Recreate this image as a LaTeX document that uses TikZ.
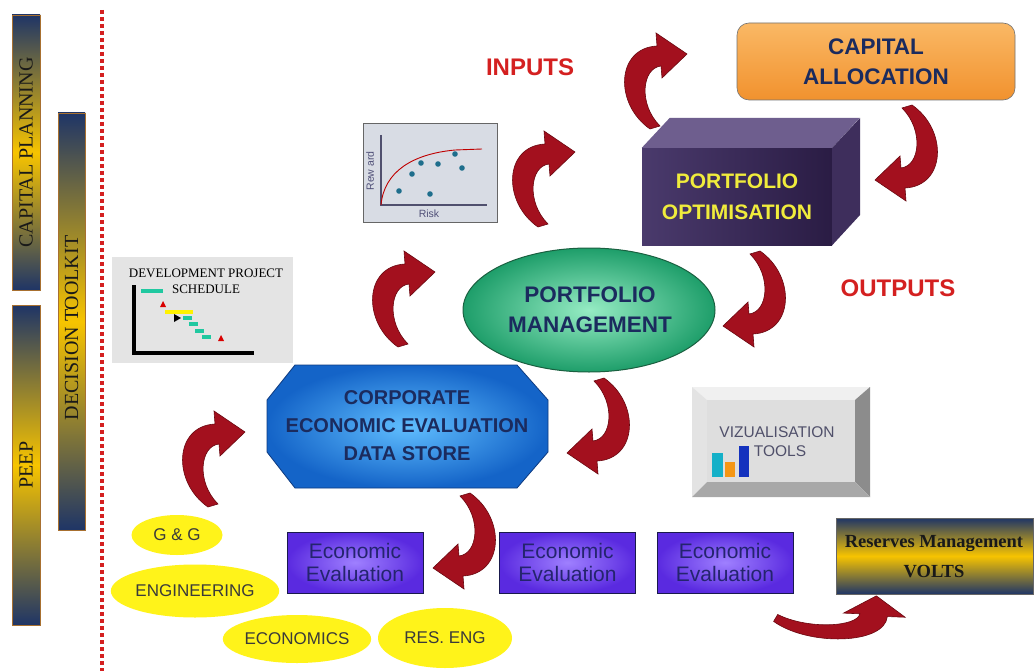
\documentclass[tikz,border=0pt]{standalone}
\usepackage{fontspec}
\setmainfont{Liberation Serif}
\setsansfont{Liberation Sans}
\usetikzlibrary{shapes.geometric}
\definecolor{navy}{HTML}{1F3566}
\definecolor{goldy}{HTML}{F7C400}
\definecolor{arrred}{HTML}{A3101E}
\definecolor{arrdark}{HTML}{6A0810}
\definecolor{titleblue}{HTML}{1B2B5E}
\definecolor{redtxt}{HTML}{D42020}
\definecolor{barborder}{HTML}{A87030}
\definecolor{evaltxt}{HTML}{24246E}
\definecolor{elltxt}{HTML}{3A3A3A}
\definecolor{vizt}{HTML}{50506A}
\definecolor{evallight}{HTML}{9F80FF}
\definecolor{evaldark}{HTML}{5A2AE0}
\definecolor{boxleft}{HTML}{4A3A6C}
\definecolor{boxright}{HTML}{2A1C44}
\definecolor{captop}{HTML}{FAB865}
\definecolor{capbot}{HTML}{F1922E}
\begin{document}
\begin{tikzpicture}[x=1pt,y=-1pt,
  sidebar/.style={draw=barborder, line width=0.6pt, top color=navy, bottom color=navy, middle color=goldy, inner sep=0},
  sidetext/.style={rotate=90, font=\rmfamily\fontsize{20}{22}\selectfont, text=black!90},
  bigtitle/.style={font=\sffamily\bfseries\fontsize{22}{30}\selectfont, text=titleblue, align=center},
  redlabel/.style={font=\sffamily\bfseries\fontsize{24}{26}\selectfont, text=redtxt},
  evalbox/.style={draw=evaltxt!70!black, line width=0.6pt, inner color=evallight, outer color=evaldark, minimum width=136, minimum height=61, inner sep=0, font=\sffamily\fontsize{21}{23}\selectfont, text=evaltxt, align=center},
  yell/.style={ellipse, fill=yellow!90!white, inner sep=0, font=\sffamily\fontsize{17}{19}\selectfont, text=elltxt},
  dotline/.style={draw=redtxt, line width=3.6pt, dash pattern=on 3.6pt off 3.4pt},
  carrow/.pic={
    \fill[arrred, draw=arrdark, line width=0.6pt] (-2,47) .. controls (-38,22) and (-36,-34) .. (5,-36) -- (4,-49) -- (35,-28) -- (10,-4) -- (9,-16) .. controls (-10,-14) and (-14,22) .. (8,44) -- cycle;
  }
]
\useasboundingbox (0,0) rectangle (1035,671);
\fill[white] (0,0) rectangle (1035,671);

% left bars
\node[sidebar, minimum width=28, minimum height=275] (cp) at (26,152.5) {};
\node[sidetext] (cpt) at (cp) {CAPITAL PLANNING};
\node[sidebar, minimum width=28, minimum height=320] (peep) at (26,465) {};
\node[sidetext] (peept) at (26,465) {PEEP};
\node[sidebar, minimum width=27, minimum height=417] (dt) at (71.5,321.5) {};
\node[sidetext] (dtt) at (71.5,328) {DECISION TOOLKIT};

% dotted separator
\coordinate (d1) at (102,10);
\coordinate (d2) at (102,671);
\draw[dotline] (d1) -- (d2);

% labels
\node[redlabel] (inputs) at (530,67) {INPUTS};
\node[redlabel] (outputs) at (898,288) {OUTPUTS};

% capital allocation
\node[draw=black!55, line width=0.6pt, rounded corners=12, top color=captop, bottom color=capbot, minimum width=278, minimum height=77, inner sep=0] (cap) at (876,61.5) {};
\node[bigtitle, font=\sffamily\bfseries\fontsize{22.5}{30}\selectfont] (capt) at (876,62) {CAPITAL\\ALLOCATION};

% portfolio optimisation 3D box
\node[left color=boxleft, right color=boxright, minimum width=190, minimum height=97, inner sep=0] (popt) at (737,196.5) {};
\fill[fill={rgb,255:red,110;green,94;blue,142}] (popt.north west) -- ++(28,-30) -- ++(190,0) -- (popt.north east) -- cycle;
\fill[fill={rgb,255:red,62;green,46;blue,92}] (popt.north east) -- ++(28,-30) -- ++(0,97) -- (popt.south east) -- cycle;
\node[font=\sffamily\bfseries\fontsize{21}{31}\selectfont, text={rgb,255:red,240;green,236;blue,60}, align=center] (poptt) at (737,197) {PORTFOLIO\\OPTIMISATION};

% risk chart
\node[draw=black!60, line width=1pt, fill={rgb,255:red,216;green,220;blue,228}, minimum width=134, minimum height=98, inner sep=0] (risk) at (430,173) {};
\coordinate (ra) at (381,135);
\coordinate (ro) at (381,205);
\coordinate (rb) at (487,205);
\draw[draw={rgb,255:red,80;green,80;blue,110}, line width=1.2pt] (ra) -- (ro) -- (rb);
\draw[red!75!black, line width=0.9pt] (ro) .. controls (384,172) and (412,154) .. (455,150) -- (482,149);
\foreach \px/\py in {399/191, 412/174, 421/163, 438/164, 455/154, 462/168, 430/194}
  \fill[fill={rgb,255:red,30;green,110;blue,140}] (\px,\py) circle (2.8);
\node[rotate=90, font=\sffamily\fontsize{10.5}{11}\selectfont, text={rgb,255:red,80;green,80;blue,120}] (rewt) at (370,171) {Rew ard};
\node[font=\sffamily\fontsize{10.5}{11}\selectfont, text={rgb,255:red,80;green,80;blue,120}] (riskt) at (429,214) {Risk};

% development schedule
\node[fill={rgb,255:red,228;green,228;blue,228}, minimum width=181, minimum height=106, inner sep=0] (sched) at (202.5,310) {};
\node[font=\rmfamily\fontsize{13}{16}\selectfont, align=center] (schedt) at (206,281) {DEVELOPMENT PROJECT\\SCHEDULE};
\coordinate (sa) at (134,285);
\coordinate (so) at (134,353);
\coordinate (sb) at (254,353);
\draw[line width=4pt] (sa) -- (so) -- (sb);
\begin{scope}[line width=3.5pt, draw={rgb,255:red,32;green,200;blue,160}]
\draw (141,291) -- (163,291);
\draw (183,318) -- (192,318);
\draw (189,324) -- (198,324);
\draw (195,331) -- (204,331);
\draw (202,337) -- (211,337);
\end{scope}
\draw[line width=4.5pt, yellow] (165,312) -- (193,312);
\fill (174,314) -- (181,318) -- (174,322) -- cycle;
\fill[red!85!black] (163,301) -- (166,307) -- (160,307) -- cycle;
\fill[red!85!black] (221,335) -- (224,341) -- (218,341) -- cycle;

% portfolio management ellipse
\node[ellipse, draw={rgb,255:red,26;green,96;blue,64}, line width=1pt, inner color={rgb,255:red,150;green,236;blue,196}, outer color={rgb,255:red,30;green,158;blue,106}, minimum width=252, minimum height=124, inner sep=0] (pm) at (589,310) {};
\node[bigtitle, font=\sffamily\bfseries\fontsize{22.5}{30}\selectfont] (pmt) at (590,310) {PORTFOLIO\\MANAGEMENT};

% corporate data store octagon
\path[draw={rgb,255:red,13;green,58;blue,128}, line width=0.8pt, inner color={rgb,255:red,96;green,190;blue,255}, outer color={rgb,255:red,20;green,100;blue,200}]
  (295,365) -- (517,365) -- (548,400) -- (548,452) -- (517,488) -- (295,488) -- (267,452) -- (267,400) -- cycle;
\node[bigtitle, font=\sffamily\bfseries\fontsize{20}{28}\selectfont] (store) at (407,426) {CORPORATE\\ECONOMIC EVALUATION\\DATA STORE};

% visualisation tools button
\fill[black!6] (692,387) -- (870,387) -- (855,400) -- (707,400) -- cycle;
\fill[black!11] (692,387) -- (707,400) -- (707,482) -- (692,497) -- cycle;
\fill[black!45] (870,387) -- (870,497) -- (855,482) -- (855,400) -- cycle;
\fill[black!34] (692,497) -- (870,497) -- (855,482) -- (707,482) -- cycle;
\node[fill=black!13, minimum width=148, minimum height=82, inner sep=0] (viz) at (781,441) {};
\node[font=\sffamily\fontsize{15.5}{19}\selectfont, text=vizt, align=center] (vizt) at (777,442) {VIZUALISATION\\\hspace*{6pt}TOOLS};
\fill[fill={rgb,255:red,20;green,176;blue,200}] (712,453) rectangle (723,477);
\fill[fill={rgb,255:red,245;green,150;blue,20}] (725,462) rectangle (735,477);
\fill[fill={rgb,255:red,20;green,50;blue,190}] (739,446) rectangle (749,477);

% economic evaluation boxes
\node[evalbox] (ev1) at (355,562.5) {Economic\\Evaluation};
\node[evalbox] (ev2) at (567.5,562.5) {Economic\\Evaluation};
\node[evalbox] (ev3) at (725,562.5) {Economic\\Evaluation};

% reserves management
\node[sidebar, draw=black!60, minimum width=197, minimum height=76] (res) at (934.5,556) {};
\node[font=\rmfamily\bfseries\fontsize{18.5}{30}\selectfont, align=center, text=black!90] (rest) at (934,557) {Reserves Management\\VOLTS};

% yellow ellipses
\node[yell, minimum width=91, minimum height=40] (gg) at (177,535) {G \& G};
\node[yell, minimum width=164, minimum height=53] (eng) at (195,591) {ENGINEERING};
\node[yell, minimum width=140, minimum height=48] (econ) at (297,639) {ECONOMICS};
\node[yell, minimum width=134, minimum height=60] (reseng) at (445,638) {RES. ENG};

% curved arrows
\pic at (652,82) {carrow};
\pic at (540,180) {carrow};
\pic at (400,300) {carrow};
\pic at (210,460) {carrow};
\pic[rotate=180] at (910,152) {carrow};
\pic[rotate=180] at (758,298) {carrow};
\pic[rotate=180] at (602,425) {carrow};
\pic[rotate=180] at (468,540) {carrow};
\pic[xscale=-1.37, yscale=0.69, rotate=90] at (838,620) {carrow};
\end{tikzpicture}
\end{document}
